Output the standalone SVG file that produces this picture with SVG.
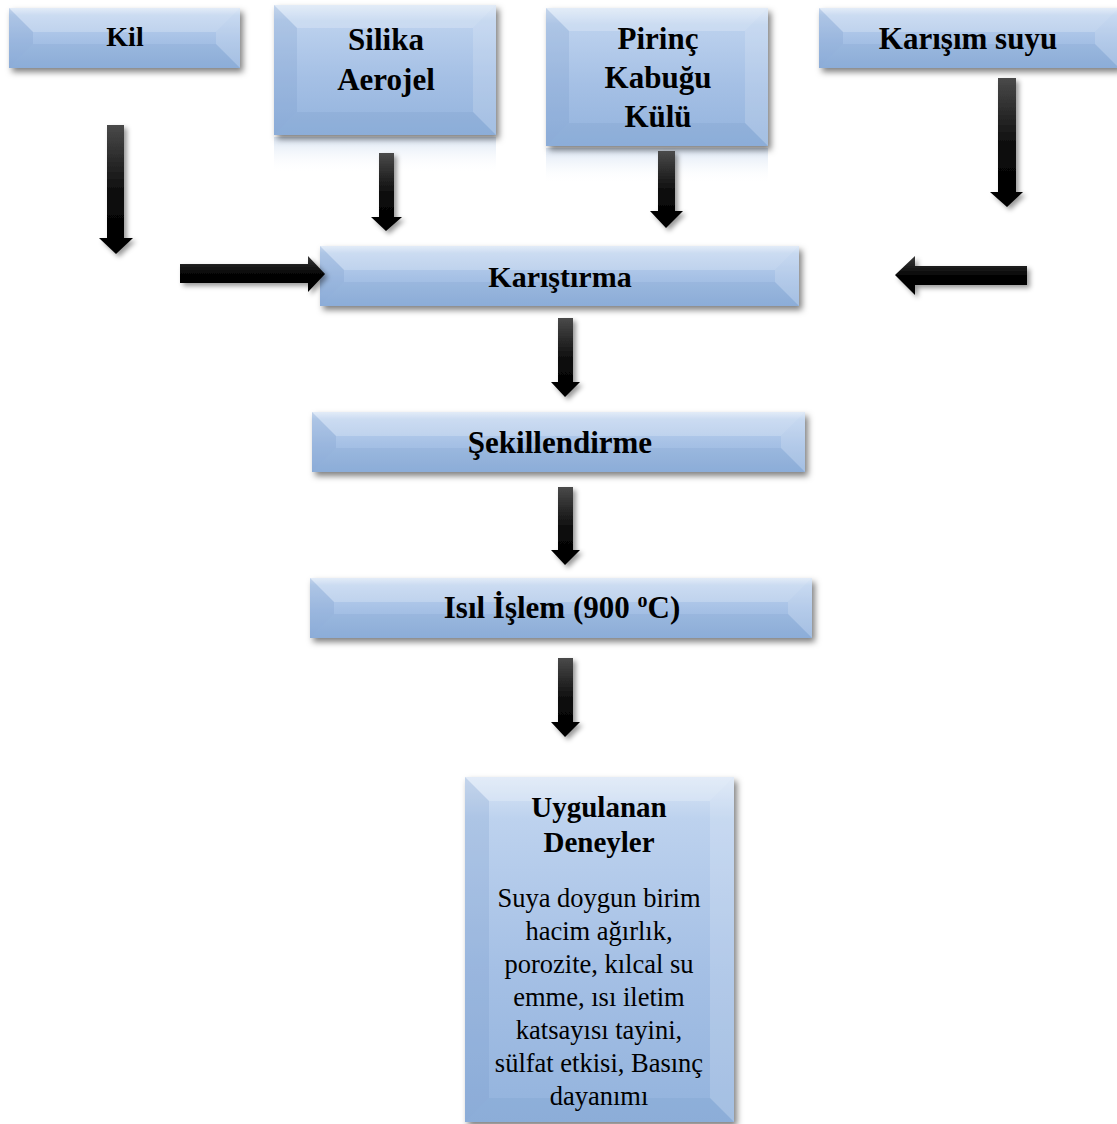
<svg xmlns="http://www.w3.org/2000/svg" width="1117" height="1124" viewBox="0 0 1117 1124">
<style>
.t{font-family:"Liberation Serif","Times New Roman",serif;font-weight:bold;fill:#000;text-anchor:middle}
.b{font-family:"Liberation Serif","Times New Roman",serif;fill:#000;text-anchor:middle;font-size:26.5px}
.face{fill:url(#faceG)}
.top{fill:#ffffff;fill-opacity:0.22}
.lft{fill:#6f93c4;fill-opacity:0.2}
.rgt{fill:#ffffff;fill-opacity:0.16}
.bot{fill:#5b82b8;fill-opacity:0.12}
.arr{fill:url(#arrV);filter:url(#ash)}
.arrh{fill:url(#arrH);filter:url(#ash)}
</style>
<defs>
<linearGradient id="faceG" x1="0" y1="0" x2="0" y2="1">
<stop offset="0" stop-color="#dbe7f6"/>
<stop offset="0.12" stop-color="#bdd2ee"/>
<stop offset="0.55" stop-color="#a5c0e5"/>
<stop offset="1" stop-color="#93b3dd"/>
</linearGradient>
<linearGradient id="arrV" x1="0" y1="0" x2="0" y2="1">
<stop offset="0" stop-color="#4a4a4a"/>
<stop offset="0.55" stop-color="#0a0a0a"/>
<stop offset="1" stop-color="#000"/>
</linearGradient>
<linearGradient id="arrH" x1="0" y1="0" x2="0" y2="1">
<stop offset="0" stop-color="#3a3a3a"/>
<stop offset="0.5" stop-color="#050505"/>
<stop offset="1" stop-color="#000"/>
</linearGradient>
<linearGradient id="refl" x1="0" y1="0" x2="0" y2="1">
<stop offset="0" stop-color="#bcd0ea" stop-opacity="0.55"/>
<stop offset="1" stop-color="#ffffff" stop-opacity="0"/>
</linearGradient>
<filter id="bsh" x="-10%" y="-20%" width="125%" height="150%">
<feDropShadow dx="3" dy="4" stdDeviation="3" flood-color="#000" flood-opacity="0.5"/>
</filter>
<filter id="ash" x="-50%" y="-20%" width="200%" height="140%">
<feDropShadow dx="3" dy="3" stdDeviation="2.5" flood-color="#000" flood-opacity="0.4"/>
</filter>
</defs>
<rect width="1117" height="1124" fill="#fff"/>

<g id="reflections">
<rect x="274" y="137" width="222" height="36" fill="url(#refl)"/>
<rect x="546" y="148" width="222" height="36" fill="url(#refl)"/>
</g>

<g id="node-kil">
<rect class="face" x="9" y="8" width="231" height="60" filter="url(#bsh)"/>
<polygon class="top" points="9,8 240,8 216,32 33,32"/>
<polygon class="lft" points="9,8 33,32 33,44 9,68"/>
<polygon class="rgt" points="240,8 240,68 216,44 216,32"/>
<polygon class="bot" points="9,68 33,44 216,44 240,68"/>
<text class="t" x="125" y="46" font-size="28">Kil</text>
</g>

<g id="node-silika">
<rect class="face" x="274" y="5" width="222" height="130" filter="url(#bsh)"/>
<polygon class="top" points="274,5 496,5 473,28 297,28"/>
<polygon class="lft" points="274,5 297,28 297,112 274,135"/>
<polygon class="rgt" points="496,5 496,135 473,112 473,28"/>
<polygon class="bot" points="274,135 297,112 473,112 496,135"/>
<text class="t" x="386" y="50" font-size="31">Silika</text>
<text class="t" x="386" y="90" font-size="31">Aerojel</text>
</g>

<g id="node-pirinc">
<rect class="face" x="546" y="8" width="222" height="138" filter="url(#bsh)"/>
<polygon class="top" points="546,8 768,8 745,31 569,31"/>
<polygon class="lft" points="546,8 569,31 569,123 546,146"/>
<polygon class="rgt" points="768,8 768,146 745,123 745,31"/>
<polygon class="bot" points="546,146 569,123 745,123 768,146"/>
<text class="t" x="658" y="49" font-size="31">Pirinç</text>
<text class="t" x="658" y="88" font-size="31">Kabuğu</text>
<text class="t" x="658" y="127" font-size="31">Külü</text>
</g>

<g id="node-karisim">
<rect class="face" x="819" y="8" width="300" height="60" filter="url(#bsh)"/>
<polygon class="top" points="819,8 1119,8 1095,32 843,32"/>
<polygon class="lft" points="819,8 843,32 843,44 819,68"/>
<polygon class="rgt" points="1119,8 1119,68 1095,44 1095,32"/>
<polygon class="bot" points="819,68 843,44 1095,44 1119,68"/>
<text class="t" x="968" y="49" font-size="31">Karışım suyu</text>
</g>

<g id="node-karistirma">
<rect class="face" x="320" y="246" width="479" height="60" filter="url(#bsh)"/>
<polygon class="top" points="320,246 799,246 775,270 344,270"/>
<polygon class="lft" points="320,246 344,270 344,282 320,306"/>
<polygon class="rgt" points="799,246 799,306 775,282 775,270"/>
<polygon class="bot" points="320,306 344,282 775,282 799,306"/>
<text class="t" x="560" y="287" font-size="30">Karıştırma</text>
</g>

<g id="node-sekillendirme">
<rect class="face" x="312" y="412" width="493" height="60" filter="url(#bsh)"/>
<polygon class="top" points="312,412 805,412 781,436 336,436"/>
<polygon class="lft" points="312,412 336,436 336,448 312,472"/>
<polygon class="rgt" points="805,412 805,472 781,448 781,436"/>
<polygon class="bot" points="312,472 336,448 781,448 805,472"/>
<text class="t" x="560" y="453" font-size="31">Şekillendirme</text>
</g>

<g id="node-isil">
<rect class="face" x="310" y="578" width="502" height="60" filter="url(#bsh)"/>
<polygon class="top" points="310,578 812,578 788,602 334,602"/>
<polygon class="lft" points="310,578 334,602 334,614 310,638"/>
<polygon class="rgt" points="812,578 812,638 788,614 788,602"/>
<polygon class="bot" points="310,638 334,614 788,614 812,638"/>
<text class="t" x="562" y="618" font-size="31">Isıl İşlem (900 <tspan font-size="20" dy="-11">o</tspan><tspan dy="11">C)</tspan></text>
</g>

<g id="node-deneyler">
<rect class="face" x="465" y="777" width="269" height="345" filter="url(#bsh)"/>
<polygon class="top" points="465,777 734,777 710,801 489,801"/>
<polygon class="lft" points="465,777 489,801 489,1098 465,1122"/>
<polygon class="rgt" points="734,777 734,1122 710,1098 710,801"/>
<polygon class="bot" points="465,1122 489,1098 710,1098 734,1122"/>
<text class="t" x="599" y="817" font-size="29">Uygulanan</text>
<text class="t" x="599" y="852" font-size="29">Deneyler</text>
<text class="b" x="599" y="907">Suya doygun birim</text>
<text class="b" x="599" y="940">hacim ağırlık,</text>
<text class="b" x="599" y="973">porozite, kılcal su</text>
<text class="b" x="599" y="1006">emme, ısı iletim</text>
<text class="b" x="599" y="1039">katsayısı tayini,</text>
<text class="b" x="599" y="1072">sülfat etkisi, Basınç</text>
<text class="b" x="599" y="1105">dayanımı</text>
</g>

<g id="connectors">
<polygon class="arr" points="107,125 124,125 124,238 133,238 116,254 99,238 107,238"/>
<polygon class="arr" points="379,153 394,153 394,217 402,217 386,231 371,217 379,217"/>
<polygon class="arr" points="658,151 675,151 675,211 683,211 666,228 650,211 658,211"/>
<polygon class="arr" points="998,78 1016,78 1016,192 1023,192 1007,207 990,192 998,192"/>
<polygon class="arrh" points="180,264 308,264 308,256 325,274 308,292 308,283 180,283"/>
<polygon class="arrh" points="1027,266 915,266 915,256 895,275 915,295 915,285 1027,285"/>
<polygon class="arr" points="558,318 573,318 573,382 580,382 565,397 551,382 558,382"/>
<polygon class="arr" points="558,487 573,487 573,550 580,550 565,565 551,550 558,550"/>
<polygon class="arr" points="558,658 573,658 573,722 580,722 565,737 551,722 558,722"/>
</g>
</svg>
